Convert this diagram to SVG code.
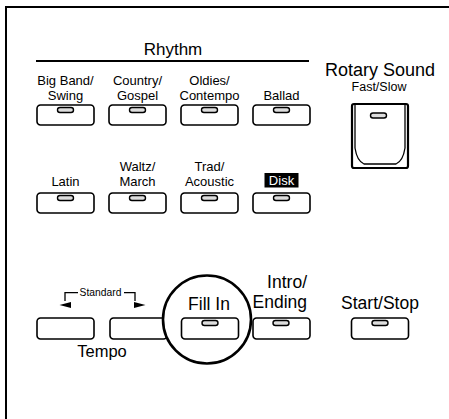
<svg xmlns="http://www.w3.org/2000/svg" width="449" height="419" viewBox="0 0 449 419">
<defs>
<style>
text{font-family:"Liberation Sans",Arial,sans-serif;fill:#000;text-anchor:middle}
.lbl{font-size:13px}
.big{font-size:17.5px}
.btn{fill:#fff;stroke:#000;stroke-width:1.6}
.led{fill:#ddd;stroke:#000;stroke-width:1.4}
.ln{fill:none;stroke:#000}
</style>
<g id="b"><rect class="btn" x="0" y="0" width="57" height="20" rx="3.5"/><rect class="led" x="20.5" y="2.5" width="16" height="5" rx="2.5"/></g>
<rect id="bp" class="btn" x="0" y="0" width="57" height="21" rx="3.5"/>
</defs>
<rect width="449" height="419" fill="#fff"/>
<path class="ln" d="M6 419V7H449" stroke-width="2"/>

<g id="rhythm-header">
<text x="173" y="55" style="font-size:17px">Rhythm</text>
<path class="ln" d="M36 61H309" stroke-width="1.8"/>
</g>

<g id="bigband"><text class="lbl" x="65.5" y="85">Big Band/</text><text class="lbl" x="65.5" y="99.5">Swing</text><use href="#b" x="37" y="105"/></g>
<g id="country"><text class="lbl" x="137.5" y="85">Country/</text><text class="lbl" x="137.5" y="99.5">Gospel</text><use href="#b" x="109" y="105"/></g>
<g id="oldies"><text class="lbl" x="209.5" y="85">Oldies/</text><text class="lbl" x="209.5" y="99.5">Contempo</text><use href="#b" x="181" y="105"/></g>
<g id="ballad"><text class="lbl" x="281.5" y="99.5">Ballad</text><use href="#b" x="253" y="105"/></g>

<g id="latin"><text class="lbl" x="65.5" y="186">Latin</text><use href="#b" x="37" y="193"/></g>
<g id="waltz"><text class="lbl" x="137.5" y="171">Waltz/</text><text class="lbl" x="137.5" y="186">March</text><use href="#b" x="109" y="193"/></g>
<g id="trad"><text class="lbl" x="209.5" y="171">Trad/</text><text class="lbl" x="209.5" y="186">Acoustic</text><use href="#b" x="181" y="193"/></g>
<g id="disk"><rect x="264.5" y="173" width="34" height="14.5" fill="#000"/><text class="lbl" x="281.5" y="185" style="fill:#fff">Disk</text><use href="#b" x="253" y="193"/></g>

<g id="rotary">
<text x="380" y="76" style="font-size:18px">Rotary Sound</text>
<text x="379" y="91" style="font-size:12.5px">Fast/Slow</text>
<rect x="352" y="104" width="56" height="64" rx="2" fill="#fff" stroke="#000" stroke-width="2.2"/>
<path class="ln" stroke-width="1.3" d="M355 105V148Q357 161 364 164H396Q403 161 405 148V105"/>
<rect class="led" x="370.5" y="113" width="16" height="5" rx="2.5"/>
</g>

<g id="tempo">
<use href="#bp" x="37" y="318"/>
<use href="#bp" x="110" y="318"/>
<text x="100.5" y="296" style="font-size:10.3px">Standard</text>
<path class="ln" stroke-width="1.3" d="M78 292.7H65V301M124 292.7H135V301"/>
<path d="M59.5 305L71 302V308Z M145.5 305L134 302V308Z" fill="#000"/>
<text x="102" y="357" style="font-size:16.5px">Tempo</text>
</g>

<g id="intro">
<text x="307" y="288" class="big" style="text-anchor:end">Intro/</text>
<text x="307" y="308" class="big" style="text-anchor:end">Ending</text>
<use href="#bp" x="253" y="318"/>
<rect class="led" x="273" y="320.5" width="16" height="5" rx="2.5"/>
</g>

<g id="startstop">
<text x="380" y="309" class="big">Start/Stop</text>
<use href="#bp" x="351.5" y="318"/>
<rect class="led" x="372" y="320.5" width="16" height="5" rx="2.5"/>
</g>

<g id="fillin">
<circle cx="207" cy="319.5" r="44" fill="#fff" stroke="#000" stroke-width="2.6"/>
<text x="209" y="310" class="big">Fill In</text>
<use href="#bp" x="181.5" y="318"/>
<rect class="led" x="202" y="320.5" width="16" height="5" rx="2.5"/>
</g>
</svg>
